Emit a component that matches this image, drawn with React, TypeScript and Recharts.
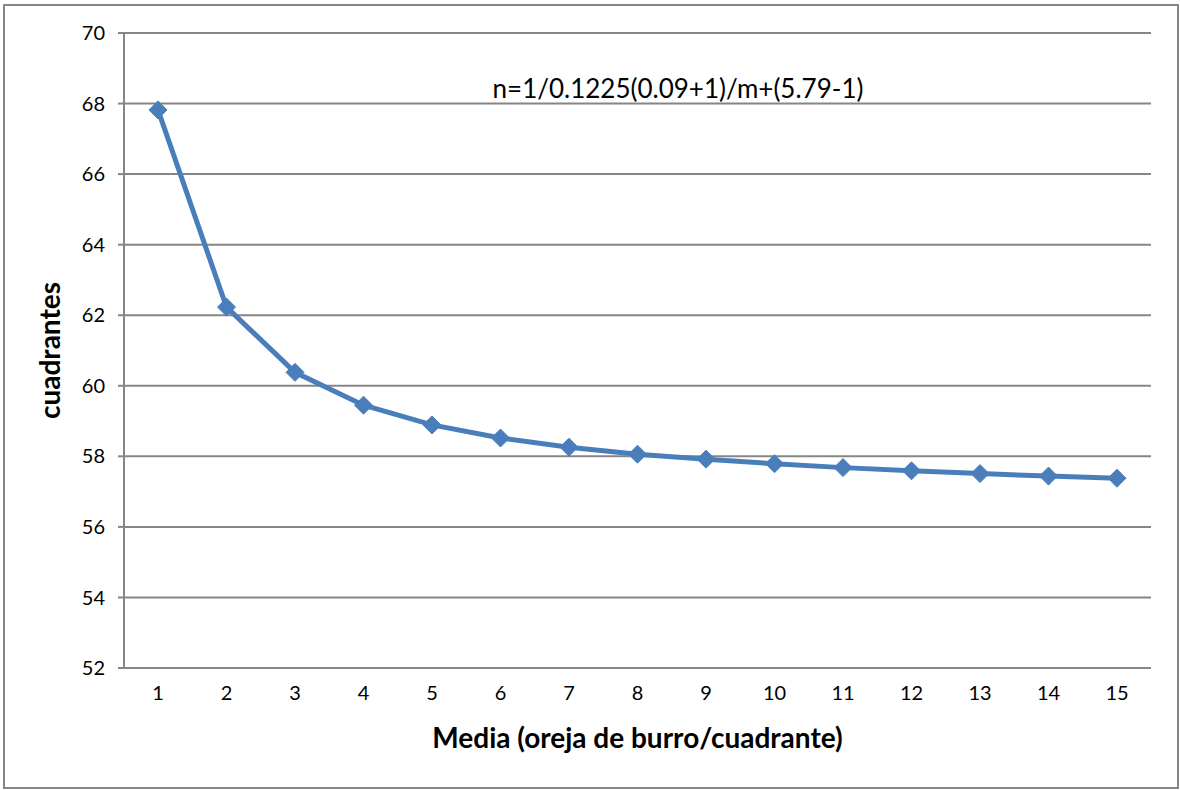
import { LineChart, Line, XAxis, YAxis, CartesianGrid, Label } from "recharts";

const medias = ["1", "2", "3", "4", "5", "6", "7", "8", "9", "10", "11", "12", "13", "14", "15"];
const cuadrantes = [
  67.82, 62.23, 60.38, 59.45, 58.89, 58.52, 58.26, 58.06, 57.92, 57.79, 57.68, 57.59, 57.51, 57.44, 57.38,
];
const yTicks = [52, 54, 56, 58, 60, 62, 64, 66, 68, 70];
const formula = "n=1/0.1225(0.09+1)/m+(5.79-1)";

const data = medias.map((m, i) => ({ m, n: cuadrantes[i] }));

const FONT = "Lato, 'Open Sans', sans-serif";
const GRID = "#868686";
const BLUE = "#4A7EBB";

// half a category band, so points sit in the middle of each slot
const HALF_BAND = 34;

function Diamond(props: any) {
  const { cx, cy } = props;
  if (cx == null || cy == null) return null;
  const r = 9;
  return (
    <polygon
      points={`${cx},${cy - r} ${cx + r},${cy} ${cx},${cy + r} ${cx - r},${cy}`}
      fill={BLUE}
      stroke={BLUE}
      strokeWidth={1}
    />
  );
}

export default function App() {
  return (
    <div style={{ position: "absolute", left: 0, top: 0, width: 1180, height: 790, background: "#fff" }}>
      <div
        style={{
          position: "absolute",
          left: 3,
          top: 4,
          width: 1172,
          height: 781,
          border: `2px solid ${GRID}`,
        }}
      />
      <LineChart
        width={1180}
        height={790}
        data={data}
        margin={{ top: 33, right: 29, bottom: 22, left: 64 }}
      >
        <CartesianGrid vertical={false} stroke={GRID} strokeWidth={2} />
        <XAxis
          dataKey="m"
          height={100}
          padding={{ left: HALF_BAND, right: HALF_BAND }}
          tickLine={false}
          tickMargin={12}
          axisLine={{ stroke: GRID, strokeWidth: 2 }}
          fontSize={20}
          fontFamily={FONT}
          tick={{ fill: "#000" }}
        >
          <Label
            value="Media (oreja de burro/cuadrante)"
            position="insideBottom"
            offset={20}
            style={{ fill: "#000", fontSize: 28, fontWeight: 700, fontFamily: FONT }}
          />
        </XAxis>
        <YAxis
          width={60}
          domain={[52, 70]}
          ticks={yTicks}
          interval={0}
          tickMargin={13}
          tickLine={{ stroke: GRID, strokeWidth: 2 }}
          axisLine={{ stroke: GRID, strokeWidth: 2 }}
          fontSize={20}
          fontFamily={FONT}
          tick={{ fill: "#000" }}
        >
          <Label
            value="cuadrantes"
            angle={-90}
            position="insideLeft"
            offset={-14}
            style={{ textAnchor: "middle", fill: "#000", fontSize: 28, fontWeight: 700, fontFamily: FONT }}
          />
        </YAxis>
        <Line
          type="linear"
          dataKey="n"
          stroke={BLUE}
          strokeWidth={5}
          dot={<Diamond />}
          activeDot={false}
          isAnimationActive={false}
        />
      </LineChart>
      <div
        style={{
          position: "absolute",
          left: 378,
          width: 600,
          top: 73,
          textAlign: "center",
          fontFamily: FONT,
          fontSize: 26,
          color: "#000",
          lineHeight: "30px",
        }}
      >
        {formula}
      </div>
    </div>
  );
}
